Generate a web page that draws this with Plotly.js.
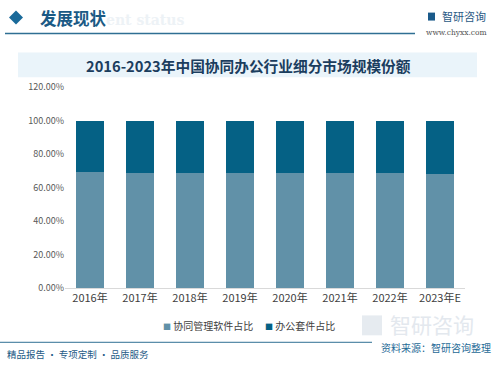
<!DOCTYPE html>
<html><head><meta charset="utf-8">
<script src="https://cdn.plot.ly/plotly-3.0.1.min.js"></script>
<style>html,body{margin:0;padding:0;background:#fff}#chart{width:500px;height:370px}</style>
</head><body><div id="chart"></div>
<script>
const categories = ['2016年','2017年','2018年','2019年','2020年','2021年','2022年','2023年E'];
const collabShare = [69.3, 68.9, 68.6, 68.5, 68.5, 68.4, 68.4, 67.9];
const officeShare = collabShare.map(v => +(100 - v).toFixed(1));
const seriesNames = ['协同管理软件占比','办公套件占比'];
const seriesColors = ['#6191a8','#056185'];
const yTicks = [0,20,40,60,80,100,120];
const yTickText = yTicks.map(v => v.toFixed(2) + '%');

const W = 500, H = 370, ML = 65, MR = 35, MT = 86.7, MB = 81.5;
const PW = W - ML - MR, PH = H - MT - MB;
const fx = x => (x - ML) / PW;
const fy = y => (H - MB - y) / PH;
const font = 'Noto Sans CJK SC, Noto Sans, sans-serif';

const traces = [
  {type:'bar', x:categories, y:collabShare, name:seriesNames[0], marker:{color:seriesColors[0]}, hoverinfo:'skip'},
  {type:'bar', x:categories, y:officeShare, name:seriesNames[1], marker:{color:seriesColors[1]}, hoverinfo:'skip'}
];

const legendAnn = (i, x) => ({
  text:`<span style="color:${seriesColors[i]};font-size:8px">■</span> ${seriesNames[i]}`,
  xref:'paper', yref:'paper', x:fx(x), y:fy(326), xanchor:'left', yanchor:'middle', showarrow:false,
  font:{size:10, color:'#404040', family:font}
});

const layout = {
  width:W, height:H, paper_bgcolor:'#fff', plot_bgcolor:'#fff',
  margin:{l:ML, r:MR, t:MT, b:MB},
  barmode:'stack', bargap:0.44, showlegend:false,
  font:{family:font, color:'#595959'},
  xaxis:{type:'category', showgrid:false, showline:true, linecolor:'#d9d9d9', linewidth:1, ticks:'',
         tickfont:{size:11, color:'#404040'}, fixedrange:true},
  yaxis:{range:[0,120], tickvals:yTicks, ticktext:yTickText, showgrid:false, zeroline:false, showline:false,
         tickfont:{size:9, color:'#595959'}, ticklen:0, ticks:'', fixedrange:true},
  shapes:[
    {type:'rect', xref:'paper', yref:'paper', layer:'below',
     x0:fx(18), x1:fx(477), y0:fy(77), y1:fy(52), fillcolor:'#eaf4fa', line:{width:0}},
    {type:'line', xref:'paper', yref:'paper', x0:fx(5), x1:fx(415), y0:fy(33), y1:fy(33), line:{color:'#2f6f93', width:1.5}},
    {type:'path', xref:'paper', yref:'paper',
     path:`M ${fx(9)} ${fy(17)} L ${fx(16)} ${fy(10)} L ${fx(23)} ${fy(17)} L ${fx(16)} ${fy(24)} Z`,
     fillcolor:'#1a6a9a', line:{width:0}},
    {type:'line', xref:'paper', yref:'paper', x0:fx(0), x1:fx(372), y0:fy(343), y1:fy(343), line:{color:'#2f6f93', width:1}},
    {type:'rect', xref:'paper', yref:'paper', x0:fx(428), x1:fx(435), y0:fy(20), y1:fy(12), fillcolor:'#1a5a8a', line:{width:0}},
    {type:'rect', xref:'paper', yref:'paper', layer:'below', x0:fx(362), x1:fx(382), y0:fy(336), y1:fy(316), fillcolor:'#e6ebf0', line:{width:0}}
  ],
  annotations:[
    legendAnn(0, 161), legendAnn(1, 263),
    {text:'2016-2023年中国协同办公行业细分市场规模份额', xref:'paper', yref:'paper', x:fx(248), y:fy(65),
     xanchor:'center', yanchor:'middle', showarrow:false, font:{size:14.7, color:'#1b3d5e', family:font, weight:'bold'}},
    {text:'ent status', xref:'paper', yref:'paper', x:fx(104), y:fy(19),
     xanchor:'left', yanchor:'middle', showarrow:false, font:{size:14, color:'#edf2f6', family:'DejaVu Serif', weight:'bold'}},
    {text:'发展现状', xref:'paper', yref:'paper', x:fx(38), y:fy(17),
     xanchor:'left', yanchor:'middle', showarrow:false, font:{size:16.5, color:'#1b5a85', family:font, weight:'bold'}},
    {text:'智研咨询', xref:'paper', yref:'paper', x:fx(440), y:fy(15),
     xanchor:'left', yanchor:'middle', showarrow:false, font:{size:11, color:'#2a5a85', family:font}},
    {text:'www.chyxx.com', xref:'paper', yref:'paper', x:fx(424), y:fy(32),
     xanchor:'left', yanchor:'middle', showarrow:false, font:{size:7.5, color:'#505050', family:'DejaVu Serif'}},
    {text:'智研咨询', xref:'paper', yref:'paper', x:fx(388), y:fy(325),
     xanchor:'left', yanchor:'middle', showarrow:false, font:{size:21, color:'#e3e8ee', family:font}},
    {text:'资料来源：智研咨询整理', xref:'paper', yref:'paper', x:fx(493), y:fy(348),
     xanchor:'right', yanchor:'middle', showarrow:false, font:{size:10, color:'#1e6a96', family:font}},
    {text:'精品报告 · 专项定制 · 品质服务', xref:'paper', yref:'paper', x:fx(5), y:fy(355),
     xanchor:'left', yanchor:'middle', showarrow:false, font:{size:9.5, color:'#1e5a86', family:font}}
  ]
};
Plotly.newPlot('chart', traces, layout, {staticPlot:true, displayModeBar:false});
</script></body></html>
